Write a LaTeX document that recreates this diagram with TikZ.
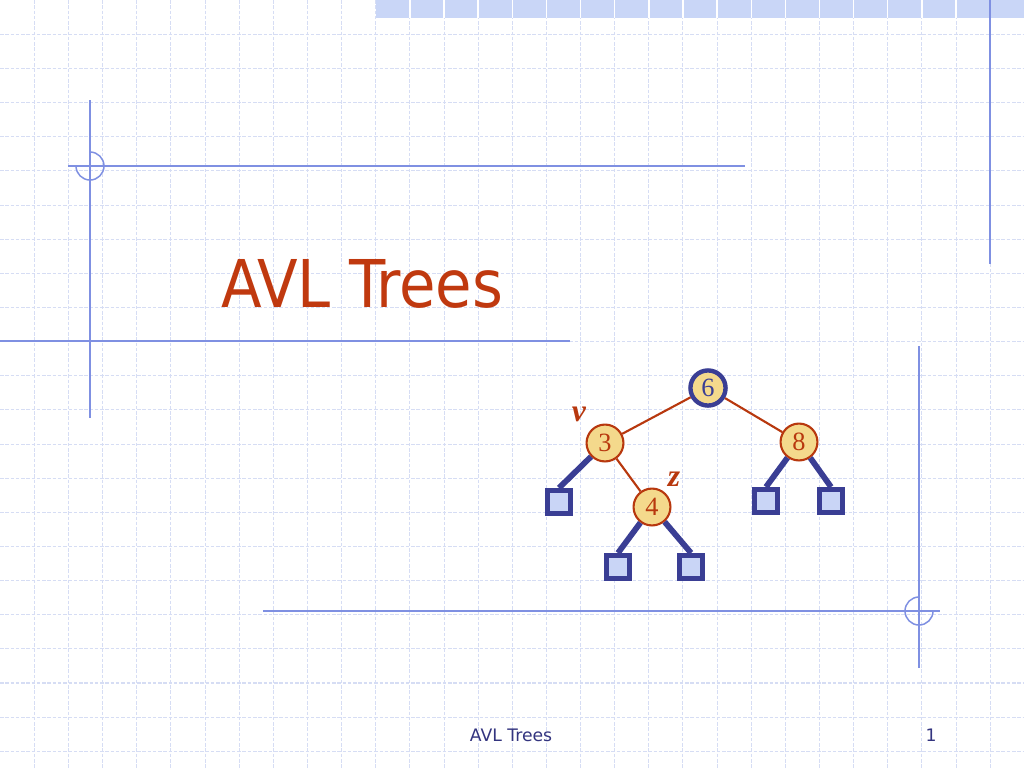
\documentclass[tikz,border=0pt]{standalone}
\usepackage{fontspec}
\setmainfont{Liberation Serif}
\newfontfamily\slidefont{DejaVu Sans Condensed}
\newfontfamily\footfont{DejaVu Sans}
\usetikzlibrary{positioning}
\definecolor{gridblue}{HTML}{D6DDF4}
\definecolor{lineblue}{HTML}{7F90E2}
\definecolor{barblue}{HTML}{C9D6F7}
\definecolor{titlered}{HTML}{C0390F}
\definecolor{treered}{HTML}{B8380E}
\definecolor{navy}{HTML}{3A3E94}
\definecolor{keyfill}{HTML}{F4D98C}
\definecolor{leaffill}{HTML}{C9D5F6}
\definecolor{footnavy}{HTML}{33347F}
\tikzset{gridline/.style={gridblue, line width=0.6pt, dash pattern=on 2pt off 1pt},
         frameline/.style={lineblue, line width=0.85pt},
         keynode/.style={circle, draw=treered, line width=1.2pt, fill=keyfill,
           minimum size=21pt, inner sep=0pt, text=treered,
           font=\fontsize{15}{15}\selectfont},
         rootnode/.style={keynode, draw=navy, line width=2.5pt, text=navy,
           minimum size=20pt},
         leafnode/.style={rectangle, draw=navy, line width=2.6pt, fill=leaffill,
           minimum size=13.4pt, inner sep=0pt},
         keyedge/.style={treered, line width=1.2pt},
         leafedge/.style={navy, line width=3.3pt},
         marklabel/.style={text=treered, font=\fontsize{18}{18}\selectfont\bfseries\itshape}}

\begin{document}
\begin{tikzpicture}[x=0.02cm,y=-0.02cm]
\useasboundingbox (0,0) rectangle (1024,768);
\fill[white] (0,0) rectangle (1024,768);

% background grid
\foreach \i in {1,...,29}
  \draw[gridline] (\i*34.133+0.3,0) -- (\i*34.133+0.3,768);
\foreach \j in {1,...,22}
  \draw[gridline] (0,\j*34.133+0.3) -- (1024,\j*34.133+0.3);

% top bar
\fill[barblue] (375.5,0) rectangle (1024,18);
\foreach \i in {12,...,29}
  \draw[white, line width=0.8pt] (\i*34.133+0.3,0) -- (\i*34.133+0.3,18);

% frame lines
\draw[frameline] (90,100) -- (90,418);
\draw[frameline] (68,166) -- (745,166);
\draw[frameline] (90,166) ++(0,-14) arc[start angle=270, end angle=540, radius=14];
\draw[frameline] (0,341) -- (570,341);
\draw[frameline] (990,0) -- (990,264);
\draw[frameline] (919,346) -- (919,668);
\draw[frameline] (263,611) -- (940,611);
\draw[frameline] (919,611) ++(14,0) arc[start angle=0, end angle=270, radius=14];

% title
\node[anchor=base, text=titlered, font=\slidefont\fontsize{37.5}{38}\selectfont]
  (title) at (362,307) {AVL Trees};

% tree
\node[rootnode] (n6) at (708,388) {6};
\node[keynode] (n3) at (605,443) {3};
\node[keynode] (n8) at (799,442) {8};
\node[keynode] (n4) at (652,507) {4};
\node[leafnode] (l1) at (559,502) {};
\node[leafnode] (l2) at (618,567) {};
\node[leafnode] (l3) at (691,567) {};
\node[leafnode] (l4) at (766,501) {};
\node[leafnode] (l5) at (831,501) {};

\draw[keyedge] (n6) -- (n3);
\draw[keyedge] (n6) -- (n8);
\draw[keyedge] (n3) -- (n4);
\draw[leafedge] (n3) -- (l1.north);
\draw[leafedge] (n4) -- (l2.north);
\draw[leafedge] (n4) -- (l3.north);
\draw[leafedge] (n8) -- (l4.north);
\draw[leafedge] (n8) -- (l5.north);

\node[marklabel] (v) at (579,414) {v};
\node[marklabel] (z) at (674,479) {z};

% footer
\node[text=footnavy, font=\footfont\fontsize{9.8}{10}\selectfont] (foot) at (511,735) {AVL Trees};
\node[text=footnavy, font=\footfont\fontsize{9.8}{10}\selectfont] (page) at (931,735) {1};

\end{tikzpicture}
\end{document}
